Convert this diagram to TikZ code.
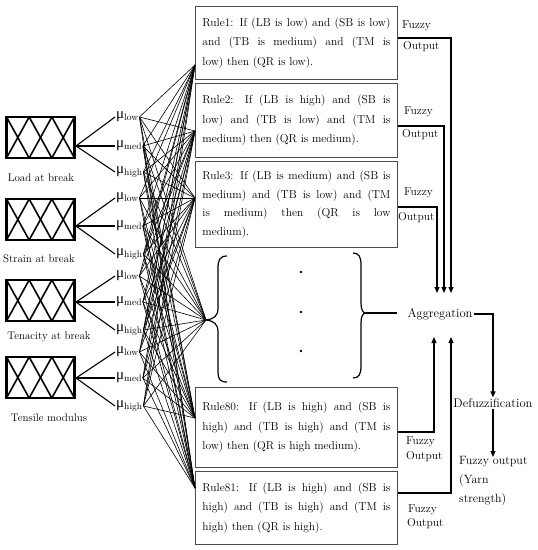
\documentclass[tikz,border=0pt]{standalone}
\usepackage{fontspec}
\newfontfamily\grk{Liberation Serif}
\usetikzlibrary{arrows.meta}
\newcommand\mulab[1]{{\grk\fontsize{15}{15}\selectfont μ}\raisebox{-1.5pt}{\fontsize{9.5}{10}\selectfont #1}}
\begin{document}
\begin{tikzpicture}[x=1pt,y=-1pt,
  rulebox/.style={draw=black!70, line width=0.8pt, text width=188pt, inner xsep=7pt, inner ysep=2pt,
     align=justify, font=\fontsize{11.5}{19.5}\selectfont, anchor=north west},
  inbox/.style={draw=black, line width=2.2pt, minimum width=68pt, minimum height=41pt, inner sep=0pt},
  xline/.style={line width=1.6pt},
  mulabel/.style={anchor=west, inner sep=1pt},
  inlabel/.style={font=\fontsize{11}{12}\selectfont},
  lbl/.style={font=\fontsize{11.5}{13}\selectfont, inner sep=1pt},
  biglbl/.style={font=\fontsize{12.5}{14}\selectfont, inner sep=1pt},
  fan/.style={line width=0.6pt},
  feed/.style={line width=1.1pt},
  conn/.style={line width=1.1pt},
  arr/.style={line width=1.1pt, -{Triangle[length=6pt,width=5pt]}},
  bracestyle/.style={line width=1.2pt}
]
\useasboundingbox (0,0) rectangle (538,550);

% ---------- input boxes ----------
\foreach \n/\t/\m/\txt/\lx/\ly in {1/117/146/Load at break/41/178,
                                   2/199/226/Strain at break/39/259,
                                   3/280/302/Tenacity at break/49/337,
                                   4/357/378/Tensile modulus/49/418}{
  \node[inbox] (B\n) at (40.5,\t+20.5) {};
  \foreach \i in {0,1,2}{
    \draw[xline] (6.5+\i*22.67,\t) -- (6.5+\i*22.67+22.67,\t+41);
    \draw[xline] (6.5+\i*22.67,\t+41) -- (6.5+\i*22.67+22.67,\t);
  }
  \node[inlabel] (C\n) at (\lx,\ly) {\txt};
  \coordinate (O\n) at (76,\m);
}

% ---------- mu labels ----------
\foreach \k/\y/\s in {1/117/low,2/146/med,3/172/high,
                      4/198/low,5/226/med,6/254/high,
                      7/276/low,8/302/med,9/330/high,
                      10/352/low,11/378/med,12/406/high}{
  \node[mulabel] (L\k) at (115,\y) {\mulab{\s}};
}
\foreach \b/\a/\c/\d in {1/1/2/3,2/4/5/6,3/7/8/9,4/10/11/12}{
  \draw[feed] (O\b) -- (L\a.west);
  \draw[feed] (O\b) -- (L\c.west);
  \draw[feed] (O\b) -- (L\d.west);
}

% ---------- rule boxes ----------
\node[rulebox, minimum height=73pt] (R1) at (195,6)
  {Rule1: If (LB is low) and (SB is low)\linebreak and (TB is medium) and (TM is\linebreak low) then (QR is low).};
\node[rulebox, minimum height=74pt] (R2) at (195,83)
  {Rule2: If (LB is high) and (SB is\linebreak low) and (TB is low) and (TM is\linebreak medium) then (QR is medium).};
\node[rulebox, minimum height=86pt, font=\fontsize{11.5}{18.5}\selectfont] (R3) at (195,161)
  {Rule3: If (LB is medium) and (SB is\linebreak medium) and (TB is low) and (TM\linebreak is medium) then (QR is low\linebreak medium).};
\node[rulebox, minimum height=80pt] (R80) at (195,387)
  {Rule80: If (LB is high) and (SB is\linebreak high) and (TB is high) and (TM is\linebreak low) then (QR is high medium).};
\node[rulebox, minimum height=73pt] (R81) at (195,471)
  {Rule81: If (LB is high) and (SB is\linebreak high) and (TB is high) and (TM is\linebreak high) then (QR is high).};

\coordinate (in1) at (195,65);
\coordinate (in2) at (195,131);
\coordinate (in3) at (195,198);
\coordinate (inb) at (206,320);
\coordinate (in80) at (195,418);
\coordinate (in81) at (195,488);

\foreach \k in {1,...,12}{
  \foreach \tg in {in1,in2,in3,inb,in80,in81}{
    \draw[fan] (L\k.east) -- (\tg);
  }
}

% ---------- braces and dots ----------
\draw[bracestyle] (227,256) .. controls (220,256) and (218,260) .. (218,268) -- (218,308)
  .. controls (218,316) and (214,319) .. (inb) .. controls (214,321) and (218,324) .. (218,332)
  -- (218,372) .. controls (218,379) and (220,382) .. (227,382);
\coordinate (rb) at (366,313);
\draw[bracestyle] (353,253) .. controls (359,253) and (361,257) .. (361,265) -- (361,303)
  .. controls (361,310) and (363,313) .. (rb) .. controls (363,313) and (361,316) .. (361,323)
  -- (361,366) .. controls (361,374) and (359,378) .. (353,378);
\fill (301,272) circle (1.3);
\fill (301,312) circle (1.3);
\fill (301,351) circle (1.3);

% ---------- right side ----------
\node[biglbl] (agg) at (440,314) {Aggregation};
\node[biglbl] (def) at (493,403) {Defuzzification};
\node[biglbl, anchor=north west, align=left, font=\fontsize{12}{19}\selectfont] (fo) at (458,455)
  {Fuzzy output\\(Yarn\\strength)};

\draw[conn] (rb) -- (397,313);

\draw[arr] (R1.east |- 0,38) -| (451,293);
\draw[arr] (R2.east |- 0,126) -| (444,293);
\draw[arr] (R3.east |- 0,207) -| (437,293);
\draw[arr] (R80.east |- 0,432) -| (434,337);
\draw[arr] (R81.east |- 0,493) -| (451,337);

\draw[arr] (agg.east) -| (def.north);
\draw[arr] (def.south) -- (493,457);

\node[lbl, anchor=west] (f1) at (401,26) {Fuzzy};
\node[lbl, anchor=west] (o1) at (402,47) {Output};
\node[lbl, anchor=west] (f2) at (403,112) {Fuzzy};
\node[lbl, anchor=west] (o2) at (401,135) {Output};
\node[lbl, anchor=west] (f3) at (403,193) {Fuzzy};
\node[lbl, anchor=west] (o3) at (397,218) {Output};
\node[lbl, anchor=west] (f80) at (405,442) {Fuzzy};
\node[lbl, anchor=west] (o80) at (405,457) {Output};
\node[lbl, anchor=west] (f81) at (407,510) {Fuzzy};
\node[lbl, anchor=west] (o81) at (406,524) {Output};
\end{tikzpicture}
\end{document}
